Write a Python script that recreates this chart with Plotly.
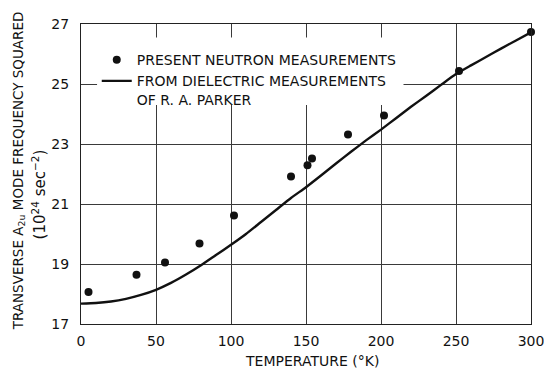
import plotly.graph_objects as go

# Neutron measurements: temperature (K) and squared mode frequency (1e24 s^-2)
neutron_temp = [5, 37, 56, 79, 102, 140, 151, 154, 178, 202, 252, 300]
neutron_freq2 = [18.07, 18.64, 19.05, 19.68, 20.62, 21.92, 22.29, 22.52, 23.32, 23.95, 25.43, 26.73]

# Curve derived from dielectric measurements
dielectric_temp = [0, 10, 20, 30, 40, 50, 60, 70, 80, 90, 100, 110, 120, 130, 140, 150,
                   160, 170, 180, 190, 200, 210, 220, 230, 240, 250, 260, 270, 280, 290, 300]
dielectric_freq2 = [17.68, 17.70, 17.75, 17.84, 17.97, 18.14, 18.37, 18.65, 18.96, 19.30,
                    19.64, 20.00, 20.40, 20.80, 21.20, 21.56, 21.95, 22.35, 22.74, 23.12,
                    23.48, 23.86, 24.24, 24.60, 24.97, 25.33, 25.62, 25.90, 26.18, 26.45, 26.72]

x_ticks = [0, 50, 100, 150, 200, 250, 300]
y_ticks = [17, 19, 21, 23, 25, 27]

FONT = "DejaVu Sans"
INK = "#111111"

fig = go.Figure()

fig.add_trace(go.Scatter(
    x=neutron_temp, y=neutron_freq2,
    mode="markers",
    name="PRESENT NEUTRON MEASUREMENTS",
    marker=dict(color=INK, size=8, line=dict(width=0)),
    cliponaxis=False,
))

fig.add_trace(go.Scatter(
    x=dielectric_temp, y=dielectric_freq2,
    mode="lines",
    name="FROM DIELECTRIC MEASUREMENTS<br>OF R. A. PARKER",
    line=dict(color=INK, width=2.4, shape="spline", smoothing=0.6),
))

axis_common = dict(
    showgrid=True, gridcolor="#3a3a3a", gridwidth=0.8,
    showline=True, linecolor="#222222", linewidth=1, mirror=True,
    zeroline=False, ticks="",
    tickfont=dict(family=FONT, size=14, color=INK),
    ticklabeloverflow="allow",
    automargin=False,
)

fig.update_xaxes(
    range=[0, 300], tickvals=x_ticks, ticktext=[str(v) for v in x_ticks],
    ticklabelstandoff=4,
    **axis_common,
)
fig.update_yaxes(
    range=[17, 27], tickvals=y_ticks, ticktext=[str(v) for v in y_ticks],
    ticklabelstandoff=8,
    **axis_common,
)

# White panel behind the legend text: hides the grid, stays under the data
fig.add_shape(
    type="rect", xref="x", yref="y",
    x0=10.7, x1=215, y0=24.3, y1=26.55,
    fillcolor="white", line=dict(width=0), layer="between",
)

# x-axis label
fig.add_annotation(
    text="TEMPERATURE (°K)",
    xref="paper", yref="paper", x=0.514, y=-0.124,
    xanchor="center", yanchor="middle", showarrow=False,
    font=dict(family=FONT, size=14, color=INK),
)

# Two-line rotated y-axis label
fig.add_annotation(
    text="TRANSVERSE A<sub>2u</sub> MODE FREQUENCY SQUARED",
    xref="paper", yref="paper", x=-0.138, y=0.512,
    xanchor="center", yanchor="middle", textangle=-90, showarrow=False,
    font=dict(family=FONT, size=13.5, color=INK),
)
fig.add_annotation(
    text="(10<sup>24</sup> sec<sup>−2</sup>)",
    xref="paper", yref="paper", x=-0.094, y=0.431,
    xanchor="center", yanchor="middle", textangle=-90, showarrow=False,
    font=dict(family=FONT, size=15, color=INK),
)

fig.update_layout(
    width=544, height=368,
    margin=dict(l=81, r=13, t=24, b=44),
    paper_bgcolor="white", plot_bgcolor="white",
    font=dict(family=FONT, color=INK),
    legend=dict(
        x=0.035, y=0.933, xanchor="left", yanchor="top",
        bgcolor="rgba(0,0,0,0)", borderwidth=0,
        font=dict(family=FONT, size=14, color=INK),
        valign="top", itemwidth=30,
    ),
)

fig.write_html("out.html")
